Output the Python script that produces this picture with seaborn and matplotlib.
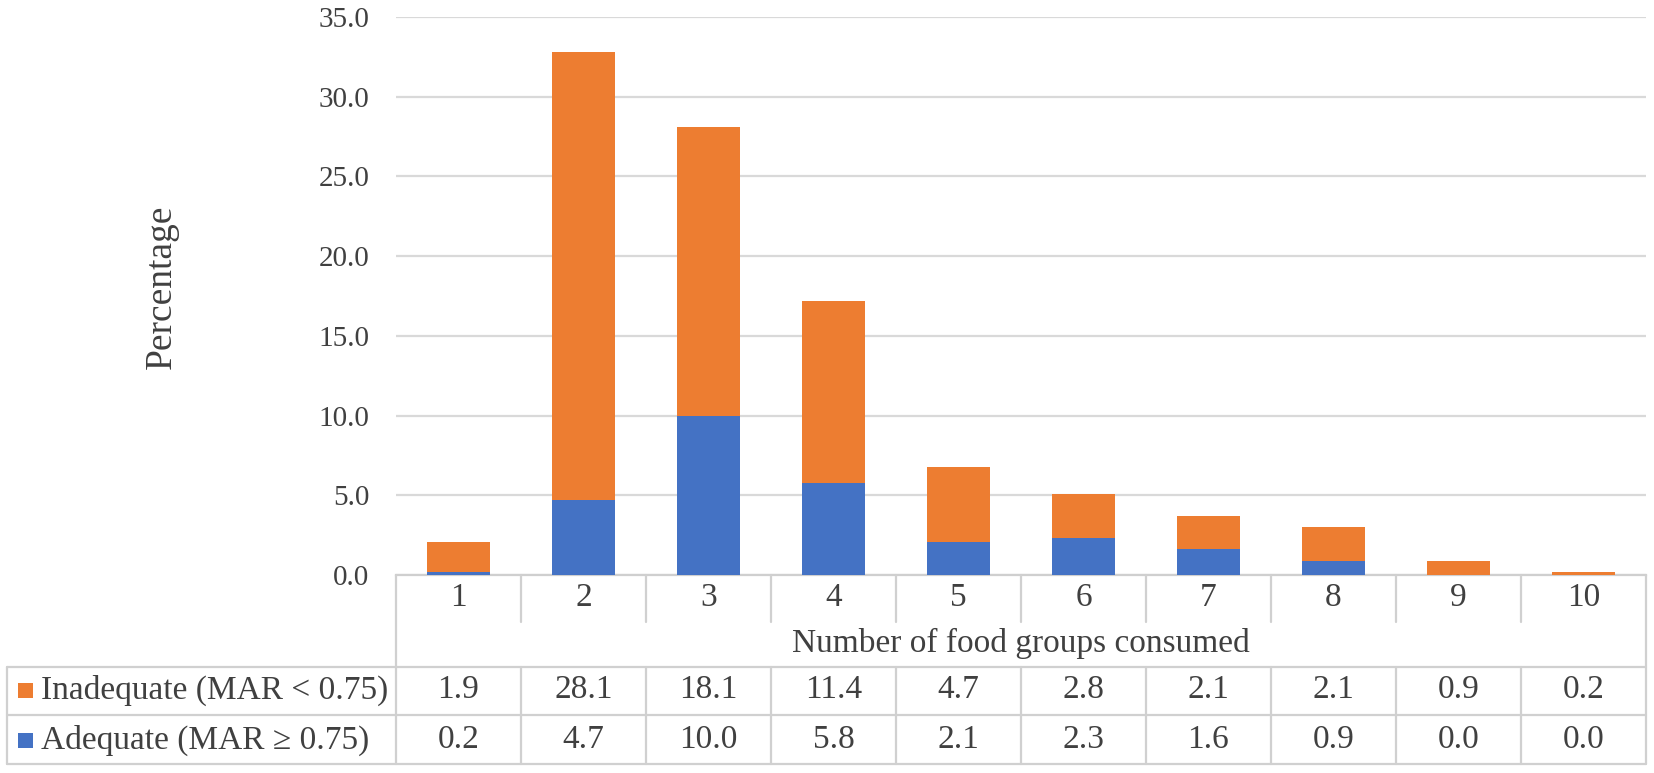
import matplotlib
matplotlib.use("Agg")
import matplotlib.pyplot as plt
import seaborn as sns
import numpy as np
import pandas as pd
from matplotlib.transforms import blended_transform_factory
from matplotlib.patches import Rectangle
from matplotlib.lines import Line2D

categories = ["1", "2", "3", "4", "5", "6", "7", "8", "9", "10"]
inadequate = [1.9, 28.1, 18.1, 11.4, 4.7, 2.8, 2.1, 2.1, 0.9, 0.2]
adequate = [0.2, 4.7, 10.0, 5.8, 2.1, 2.3, 1.6, 0.9, 0.0, 0.0]
series_names = ["Inadequate (MAR < 0.75)", "Adequate (MAR \u2265 0.75)"]
yticks = [0, 5, 10, 15, 20, 25, 30, 35]
xlabel = "Number of food groups consumed"
ylabel = "Percentage"

ORANGE = "#ED7D31"
BLUE = "#4472C4"
GRID = "#d9d9d9"
TXT = "#404040"

sns.set_theme(style="white")
plt.rcParams["font.family"] = ["Liberation Serif", "DejaVu Serif"]

W, H = 1654, 773
fig = plt.figure(figsize=(W / 100, H / 100), dpi=100)
L, R, B, T = 396, 1646, 575, 17
ax = fig.add_axes([L / W, 1 - B / H, (R - L) / W, (B - T) / H])

df = pd.DataFrame({"cat": categories,
                   "total": np.array(inadequate) + np.array(adequate),
                   "adequate": adequate})

sns.barplot(data=df, x="cat", y="total", color=ORANGE, saturation=1,
            width=0.51, ax=ax, linewidth=0, zorder=3)
sns.barplot(data=df, x="cat", y="adequate", color=BLUE, saturation=1,
            width=0.51, ax=ax, linewidth=0, zorder=4)

ax.set_xlim(-0.5, len(categories) - 0.5)
ax.set_ylim(0, 35)
ax.set_yticks(yticks)
ax.set_yticklabels([f"{v:.1f}" for v in yticks], fontsize=21, color=TXT)
ax.tick_params(axis="y", length=0, pad=19)
ax.set_xticks([])
ax.set_xlabel("")
ax.yaxis.grid(True, color=GRID, linewidth=1.6, zorder=0)
ax.set_axisbelow(True)
for s in ["top", "right", "left"]:
    ax.spines[s].set_visible(False)
ax.spines["bottom"].set_color("#cfcfcf")
ax.spines["bottom"].set_linewidth(1.6)
ax.set_ylabel(ylabel, fontsize=27, color=TXT, va="center", ha="center")
ax.yaxis.set_label_coords((162 - L) / (R - L), (B - 287) / (B - T))

# table
bt = blended_transform_factory(ax.transData, fig.transFigure)
ft = fig.transFigure
def fy(px):
    return 1 - px / H
def fx(px):
    return px / W

LC = "#d0d0d0"
lw = 1.6
n = len(categories)
row_cat_bot, row_lab_bot, row1_bot, row2_bot = 622, 667, 715, 764
left_tab = 7

def fline(xs, ys, trans):
    fig.add_artist(Line2D(xs, ys, transform=trans, color=LC, lw=lw, clip_on=False))

fline([fx(L), fx(L)], [fy(B), fy(row2_bot)], ft)
fline([fx(R), fx(R)], [fy(B), fy(row2_bot)], ft)
fline([fx(left_tab), fx(left_tab)], [fy(row_lab_bot), fy(row2_bot)], ft)
for i in range(n - 1):
    fline([i + 0.5, i + 0.5], [fy(B), fy(row_cat_bot)], bt)
    fline([i + 0.5, i + 0.5], [fy(row_lab_bot), fy(row2_bot)], bt)
for yy in [row_lab_bot, row1_bot, row2_bot]:
    fline([fx(left_tab), fx(R)], [fy(yy), fy(yy)], ft)

for i, c in enumerate(categories):
    fig.text(i, fy(598), c, transform=bt, ha="center", va="center",
             fontsize=24, color=TXT)
fig.text((L + R) / 2 / W, fy(643), xlabel, ha="center", va="center",
         fontsize=24, color=TXT)

rows = [(series_names[0], inadequate, ORANGE, 690),
        (series_names[1], adequate, BLUE, 740)]
for name, vals, col, yc in rows:
    fig.add_artist(Rectangle((fx(18), fy(yc + 8)), 15 / W, 15 / H,
                             transform=ft, color=col, lw=0))
    fig.text(fx(41), fy(yc), name, ha="left", va="center", fontsize=24,
             color=TXT)
    for i, v in enumerate(vals):
        fig.text(i, fy(yc), f"{v:.1f}", transform=bt, ha="center",
                 va="center", fontsize=24, color=TXT)

fig.savefig("out.png", dpi=100, facecolor="white")
